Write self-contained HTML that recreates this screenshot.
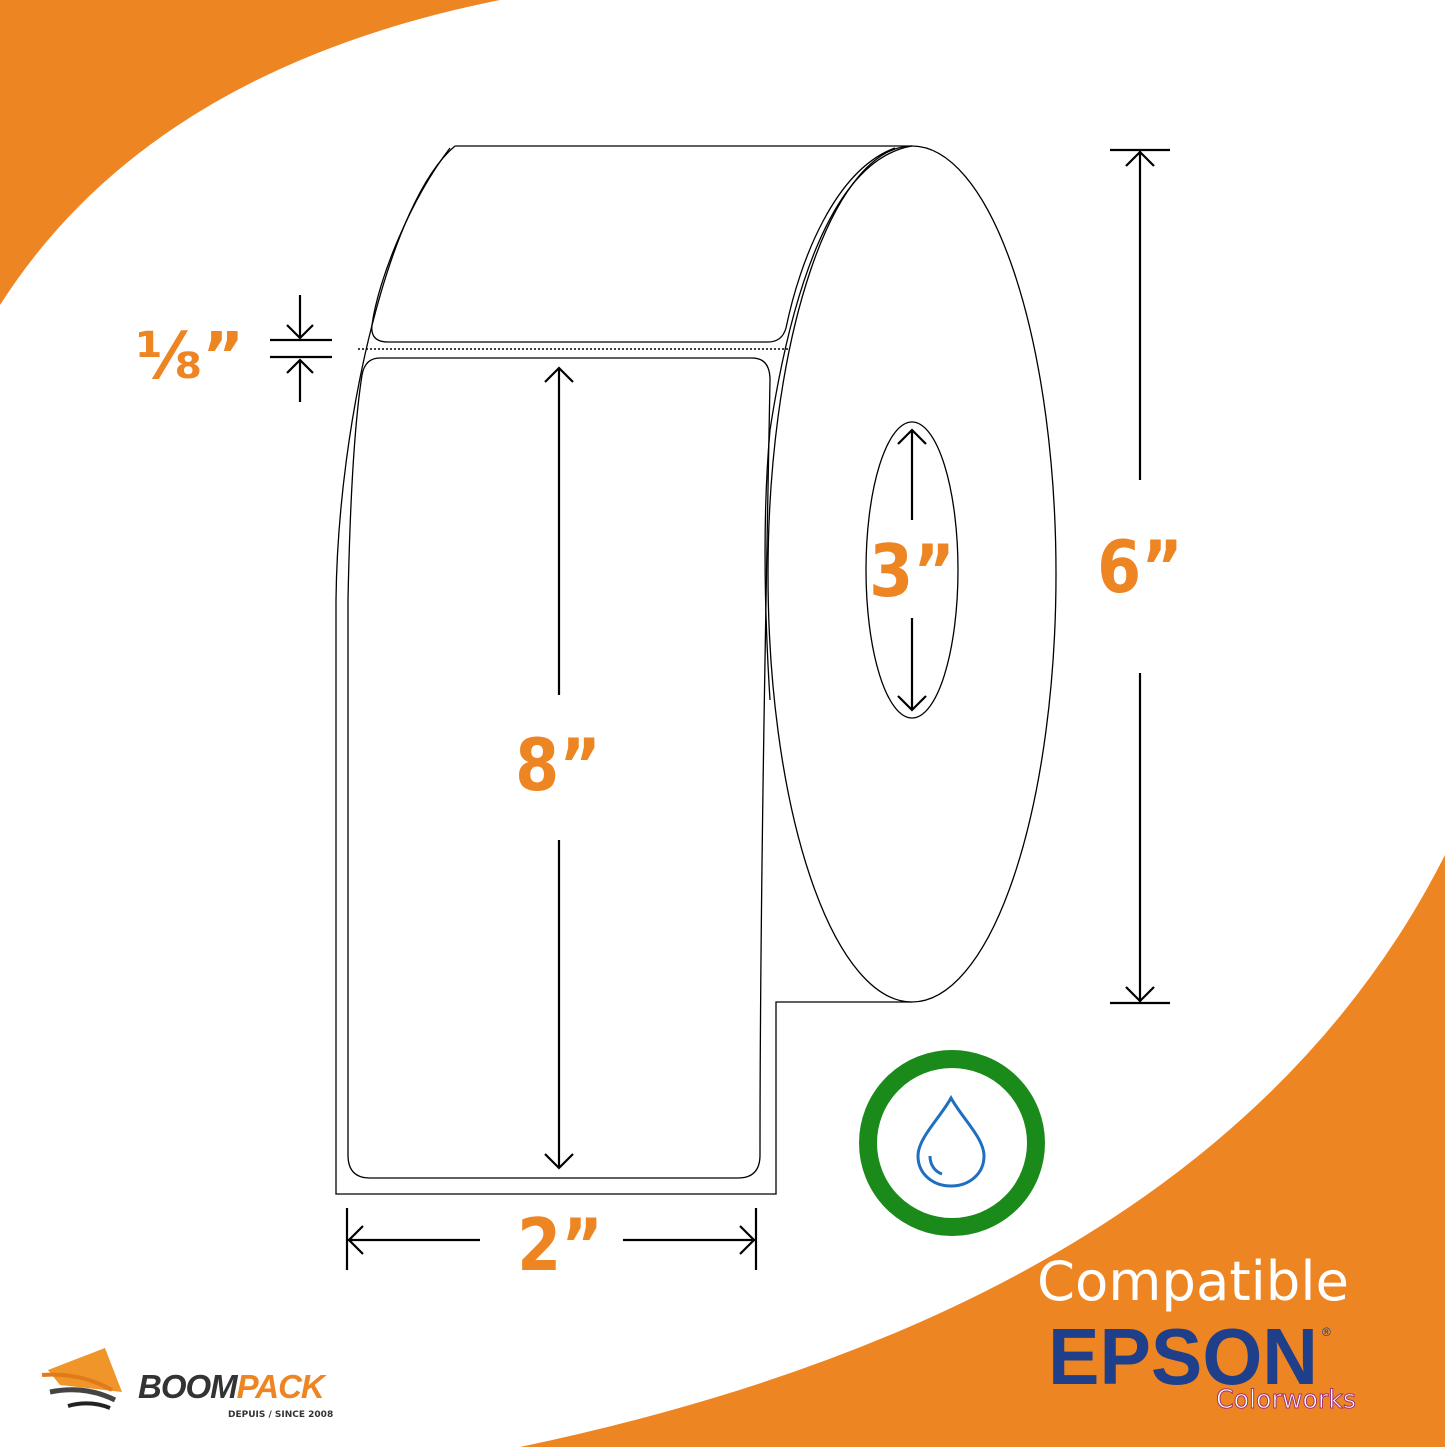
<!DOCTYPE html>
<html><head><meta charset="utf-8"><style>
html,body{margin:0;padding:0;background:#fff;}
svg{display:block}
</style></head><body>
<svg width="1445" height="1447" viewBox="0 0 1445 1447" xmlns="http://www.w3.org/2000/svg">
<rect width="1445" height="1447" fill="#fff"/>
<path d="M0,0 L500,0 Q150,70 0,305 Z" fill="#EE8523"/>
<path d="M1445,855 Q1220,1300 520,1447 L1445,1447 Z" fill="#EE8523"/>
<g fill="none" stroke="#000" stroke-width="1.3">
<path d="M455,146 C390,200 338,420 336,600 L336,1194 L776,1194 L776,1002 L912,1002"/>
<line x1="455" y1="146" x2="912" y2="146"/>
<ellipse cx="912" cy="574" rx="144" ry="428" fill="#fff"/>
<path d="M912,146 C830,160 790,300 770,430 C762,520 765,620 770,700"/>
<ellipse cx="912" cy="570" rx="46" ry="148"/>
<path d="M450,148 C410,200 378,280 372,325 Q370,342 388,342 L768,342 Q782,342 786,328 C800,260 835,170 895,148"/>
<path d="M380,358 L752,358 Q770,358 770,380 C766,600 760,900 760,1155 Q760,1178 738,1178 L370,1178 Q348,1178 348,1155 L348,600 C350,500 355,420 362,375 Q365,358 380,358 Z"/>
</g>
<line x1="358" y1="349" x2="790" y2="349" stroke="#000" stroke-width="1.5" stroke-dasharray="2,2"/>
<g fill="none" stroke="#000" stroke-width="2.2">
<line x1="559" y1="368" x2="559" y2="695"/><line x1="559" y1="840" x2="559" y2="1168"/>
<polyline points="545,382 559,368 573,382"/><polyline points="545,1154 559,1168 573,1154"/>
<line x1="1110" y1="150" x2="1170" y2="150"/><line x1="1110" y1="1003" x2="1170" y2="1003"/>
<line x1="1140" y1="150" x2="1140" y2="480"/><line x1="1140" y1="673" x2="1140" y2="1003"/>
<polyline points="1126,166 1140,152 1154,166"/><polyline points="1126,987 1140,1001 1154,987"/>
<line x1="912" y1="430" x2="912" y2="520"/><line x1="912" y1="618" x2="912" y2="710"/>
<polyline points="898,444 912,430 926,444"/><polyline points="898,696 912,710 926,696"/>
<line x1="347" y1="1208" x2="347" y2="1270"/><line x1="756" y1="1208" x2="756" y2="1270"/>
<line x1="347" y1="1240" x2="480" y2="1240"/><line x1="623" y1="1240" x2="756" y2="1240"/>
<polyline points="363,1226 349,1240 363,1254"/><polyline points="740,1226 754,1240 740,1254"/>
<line x1="300" y1="295" x2="300" y2="338"/><polyline points="287,325 300,338 313,325"/>
<line x1="300" y1="402" x2="300" y2="360"/><polyline points="287,373 300,360 313,373"/>
<line x1="270" y1="340" x2="332" y2="340"/><line x1="270" y1="357" x2="332" y2="357"/>
</g>
<g font-family="'DejaVu Sans','Liberation Sans',sans-serif" font-weight="bold" fill="#EE8523" text-anchor="middle">
<text transform="translate(558,790) scale(0.88,1)" font-size="72">8”</text>
<text transform="translate(1140,592) scale(0.88,1)" font-size="72">6”</text>
<text transform="translate(912,596) scale(0.88,1)" font-size="72">3”</text>
<text transform="translate(560,1270) scale(0.88,1)" font-size="72">2”</text>
<text x="190" y="378" font-size="64">⅛”</text>
</g>
<circle cx="952" cy="1143" r="84" fill="#fff" stroke="#1a8a1a" stroke-width="18"/>
<path d="M951,1098 C940,1118 918,1138 918,1156 C918,1174 933,1186 951,1186 C969,1186 984,1174 984,1156 C984,1138 962,1118 951,1098 Z" fill="none" stroke="#1f6fc0" stroke-width="3"/>
<path d="M930,1156 C930,1166 936,1172 942,1174" fill="none" stroke="#1f6fc0" stroke-width="3"/>
<text x="1037" y="1300" font-family="'DejaVu Sans',sans-serif" font-size="54" fill="#fff" textLength="312" lengthAdjust="spacingAndGlyphs">Compatible</text>
<text x="1048" y="1384" font-family="'Liberation Sans',sans-serif" font-weight="bold" font-size="80" fill="#1f3f8a" textLength="270" lengthAdjust="spacingAndGlyphs">EPSON</text>
<text x="1322" y="1336" font-family="'Liberation Sans',sans-serif" font-size="12" fill="#1f3f8a">®</text>
<text x="1216" y="1408" font-family="'DejaVu Sans',sans-serif" font-size="26" fill="#fff" stroke="#a03070" stroke-width="1" textLength="140" lengthAdjust="spacingAndGlyphs">Colorworks</text>
<path d="M48,1370 L105,1348 L122,1392 L60,1385 Z" fill="#F0952A"/>
<path d="M42,1375 Q80,1372 112,1390" fill="none" stroke="#e07a1a" stroke-width="4"/>
<path d="M50,1392 Q85,1385 115,1400" fill="none" stroke="#444" stroke-width="5"/>
<path d="M68,1406 Q90,1400 110,1408" fill="none" stroke="#222" stroke-width="4"/>
<text x="138" y="1398" font-family="'Liberation Sans',sans-serif" font-weight="bold" font-style="italic" font-size="33" fill="#333" letter-spacing="-1">BOOM<tspan fill="#EE8523">PACK</tspan></text>
<text x="228" y="1417" font-family="'DejaVu Sans',sans-serif" font-weight="bold" font-size="9" fill="#333">DEPUIS / SINCE 2008</text>
</svg>
</body></html>
